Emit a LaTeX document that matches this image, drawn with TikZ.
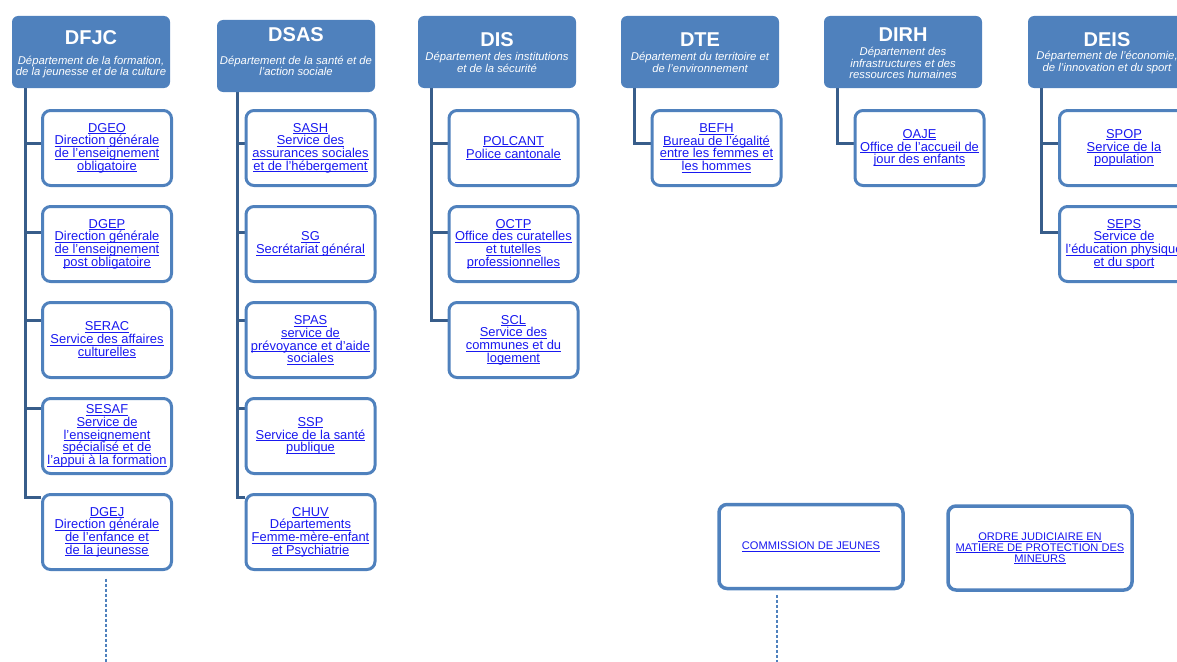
\documentclass[tikz,border=0pt]{standalone}
\usepackage{fontspec}
\setmainfont{Liberation Sans}
\usepackage{xcolor}
\usepackage{tikz}
\usetikzlibrary{positioning}

\definecolor{DeptBlue}{RGB}{79,129,189}
\definecolor{TrunkBlue}{RGB}{56,93,138}
\definecolor{LinkBlue}{RGB}{25,25,240}

\pgfdeclarelayer{background}
\pgfsetlayers{background,main}

% underlined link text, one line
\newcommand{\linkline}[1]{\setbox0=\hbox{#1}\rlap{\rule[-1.7pt]{\wd0}{0.7pt}}\box0}

\tikzset{
	deptbox/.style={fill=DeptBlue, rounded corners=6pt, minimum width=158pt, minimum height=72pt, inner sep=0pt},
	depttitle/.style={text=white, inner sep=0pt, font=\fontsize{20}{22}\selectfont\bfseries},
	deptsub/.style={text=white, inner sep=0pt, align=center, font=\fontsize{11.3}{11.5}\selectfont\itshape},
	unitbox/.style={draw=DeptBlue, line width=3pt, rounded corners=8pt, fill=white, minimum width=129pt, minimum height=75pt, inner sep=0pt, align=center, text=LinkBlue, font=\fontsize{12.9}{12.7}\selectfont},
	outerbox/.style={unitbox, line width=3.5pt, minimum width=184pt, minimum height=84pt, font=\fontsize{11.1}{11}\selectfont},
	trunk/.style={draw=TrunkBlue, line width=3pt},
	tailline/.style={draw=DeptBlue, line width=1.2pt, dash pattern=on 3pt off 2pt},
}

\begin{document}
\begin{tikzpicture}[x=1pt, y=-1pt, node distance=18pt]
		
		% ---------------------
		% Proper size --- Bounding box
		\useasboundingbox (0,0) rectangle (1177,661);
		
		% ---------------------
		% Departments
		
		\node[deptbox] (DFJC) at (91,52) {};
		\node[depttitle] (DFJCt) at (91,38) {DFJC};
		\node[deptsub] (DFJCs) at (91,67) {Département de la formation,\\de la jeunesse et de la culture};
		
		\node[deptbox] (DSAS) at (296,56) {};
		\node[depttitle] (DSASt) at (296,35) {DSAS};
		\node[deptsub] (DSASs) at (296,66) {Département de la santé et de\\l’action sociale};
		
		\node[deptbox] (DIS) at (497,52) {};
		\node[depttitle] (DISt) at (497,40) {DIS};
		\node[deptsub] (DISs) at (497,62.5) {Département des institutions\\et de la sécurité};
		
		\node[deptbox] (DTE) at (700,52) {};
		\node[depttitle] (DTEt) at (700,40) {DTE};
		\node[deptsub] (DTEs) at (700,62.5) {Département du territoire et\\de l’environnement};
		
		\node[deptbox] (DIRH) at (903,52) {};
		\node[depttitle] (DIRHt) at (903,35) {DIRH};
		\node[deptsub] (DIRHs) at (903,63) {Département des\\infrastructures et des\\ressources humaines};
		
		\node[deptbox] (DEIS) at (1107,52) {};
		\node[depttitle] (DEISt) at (1107,40) {DEIS};
		\node[deptsub] (DEISs) at (1107,62.5) {Département de l’économie,\\de l’innovation et du sport};
		
		% ---------------------
		% Services
		
		\node[unitbox] (DGEO) at (107,148) {\linkline{DGEO}\\\linkline{Direction générale}\\\linkline{de l'enseignement}\\\linkline{obligatoire}};
		\node[unitbox, below=of DGEO] (DGEP) {\linkline{DGEP}\\\linkline{Direction générale}\\\linkline{de l'enseignement}\\\linkline{post obligatoire}};
		\node[unitbox, below=of DGEP] (SERAC) {\linkline{SERAC}\\\linkline{Service des affaires}\\\linkline{culturelles}};
		\node[unitbox, below=of SERAC] (SESAF) {\linkline{SESAF}\\\linkline{Service de}\\\linkline{l'enseignement}\\\linkline{spécialisé et de}\\\linkline{l'appui à la formation}};
		\node[unitbox, below=of SESAF] (DGEJ) {\linkline{DGEJ}\\\linkline{Direction générale}\\\linkline{de l'enfance et}\\\linkline{de la jeunesse}};
		
		\node[unitbox] (SASH) at (310.5,148) {\linkline{SASH}\\\linkline{Service des}\\\linkline{assurances sociales}\\\linkline{et de l'hébergement}};
		\node[unitbox, below=of SASH] (SG) {\linkline{SG}\\\linkline{Secrétariat général}};
		\node[unitbox, below=of SG] (SPAS) {\linkline{SPAS}\\\linkline{service de}\\\linkline{prévoyance et d'aide}\\\linkline{sociales}};
		\node[unitbox, below=of SPAS] (SSP) {\linkline{SSP}\\\linkline{Service de la santé}\\\linkline{publique}};
		\node[unitbox, below=of SSP] (CHUV) {\linkline{CHUV}\\\linkline{Départements}\\\linkline{Femme-mère-enfant}\\\linkline{et Psychiatrie}};
		
		\node[unitbox] (POLCANT) at (513.5,148) {\linkline{POLCANT}\\\linkline{Police cantonale}};
		\node[unitbox, below=of POLCANT] (OCTP) {\linkline{OCTP}\\\linkline{Office des curatelles}\\\linkline{et tutelles}\\\linkline{professionnelles}};
		\node[unitbox, below=of OCTP] (SCL) {\linkline{SCL}\\\linkline{Service des}\\\linkline{communes et du}\\\linkline{logement}};
		
		\node[unitbox] (BEFH) at (716.5,148) {\linkline{BEFH}\\\linkline{Bureau de l'égalité}\\\linkline{entre les femmes et}\\\linkline{les hommes}};
		
		\node[unitbox] (OAJE) at (919.5,148) {\linkline{OAJE}\\\linkline{Office de l'accueil de}\\\linkline{jour des enfants}};
		
		\node[unitbox] (SPOP) at (1124,148) {\linkline{SPOP}\\\linkline{Service de la}\\\linkline{population}};
		\node[unitbox, below=of SPOP] (SEPS) {\linkline{SEPS}\\\linkline{Service de}\\\linkline{l'éducation physique}\\\linkline{et du sport}};
		
		% ---------------------
		% Other bodies
		
		\node[outerbox] (CJ) at (811,546.5) {\linkline{COMMISSION DE JEUNES}};
		\node[outerbox] (OJ) at (1040,548) {\linkline{ORDRE JUDICIAIRE EN}\\\linkline{MATIERE DE PROTECTION DES}\\\linkline{MINEURS}};
		
		% ---------------------
		% Trunk roots and branch points
		
		\path (DFJC.south west) +(14,0) coordinate (DFJCroot);
		\path (DSAS.south west) +(21,0) coordinate (DSASroot);
		\path (DIS.south west) +(14,0) coordinate (DISroot);
		\path (DTE.south west) +(14,0) coordinate (DTEroot);
		\path (DIRH.south west) +(14,0) coordinate (DIRHroot);
		\path (DEIS.south west) +(14,0) coordinate (DEISroot);
		
		\coordinate (bDGEO) at ([yshift=5pt]DGEO.west);
		\coordinate (bDGEP) at ([yshift=12pt]DGEP.west);
		\coordinate (bSERAC) at ([yshift=20pt]SERAC.west);
		\coordinate (bSESAF) at ([yshift=28pt]SESAF.west);
		\coordinate (bDGEJ) at ([yshift=35pt]DGEJ.west);
		
		\coordinate (bSASH) at ([yshift=5pt]SASH.west);
		\coordinate (bSG) at ([yshift=12pt]SG.west);
		\coordinate (bSPAS) at ([yshift=20pt]SPAS.west);
		\coordinate (bSSP) at ([yshift=28pt]SSP.west);
		\coordinate (bCHUV) at ([yshift=35pt]CHUV.west);
		
		\coordinate (bPOLCANT) at ([yshift=5pt]POLCANT.west);
		\coordinate (bOCTP) at ([yshift=12pt]OCTP.west);
		\coordinate (bSCL) at ([yshift=20pt]SCL.west);
		
		\coordinate (bBEFH) at ([yshift=5pt]BEFH.west);
		\coordinate (bOAJE) at ([yshift=5pt]OAJE.west);
		
		\coordinate (bSPOP) at ([yshift=5pt]SPOP.west);
		\coordinate (bSEPS) at ([yshift=12pt]SEPS.west);
		
		% ---------------------
		\begin{pgfonlayer}{background}
			
			\draw[trunk] (DFJCroot) |- (bDGEJ);
			\draw[trunk] (bDGEO -| DFJCroot) -- (bDGEO);
			\draw[trunk] (bDGEP -| DFJCroot) -- (bDGEP);
			\draw[trunk] (bSERAC -| DFJCroot) -- (bSERAC);
			\draw[trunk] (bSESAF -| DFJCroot) -- (bSESAF);
			
			\draw[trunk] (DSASroot) |- (bCHUV);
			\draw[trunk] (bSASH -| DSASroot) -- (bSASH);
			\draw[trunk] (bSG -| DSASroot) -- (bSG);
			\draw[trunk] (bSPAS -| DSASroot) -- (bSPAS);
			\draw[trunk] (bSSP -| DSASroot) -- (bSSP);
			
			\draw[trunk] (DISroot) |- (bSCL);
			\draw[trunk] (bPOLCANT -| DISroot) -- (bPOLCANT);
			\draw[trunk] (bOCTP -| DISroot) -- (bOCTP);
			
			\draw[trunk] (DTEroot) |- (bBEFH);
			\draw[trunk] (DIRHroot) |- (bOAJE);
			
			\draw[trunk] (DEISroot) |- (bSEPS);
			\draw[trunk] (bSPOP -| DEISroot) -- (bSPOP);
			
		\end{pgfonlayer}
		
		% ---------------------
		% Dashed tails
		
		\path (DGEJ.south) +(-1,7.5) coordinate (DGEJtail);
		\path (DGEJ.south) +(-1,92) coordinate (DGEJfoot);
		\draw[tailline] (DGEJtail) -- (DGEJfoot);
		
		\path (CJ.south) +(-34,4.5) coordinate (CJtail);
		\path (CJ.south) +(-34,73) coordinate (CJfoot);
		\draw[tailline] (CJtail) -- (CJfoot);
		
\end{tikzpicture}
\end{document}
